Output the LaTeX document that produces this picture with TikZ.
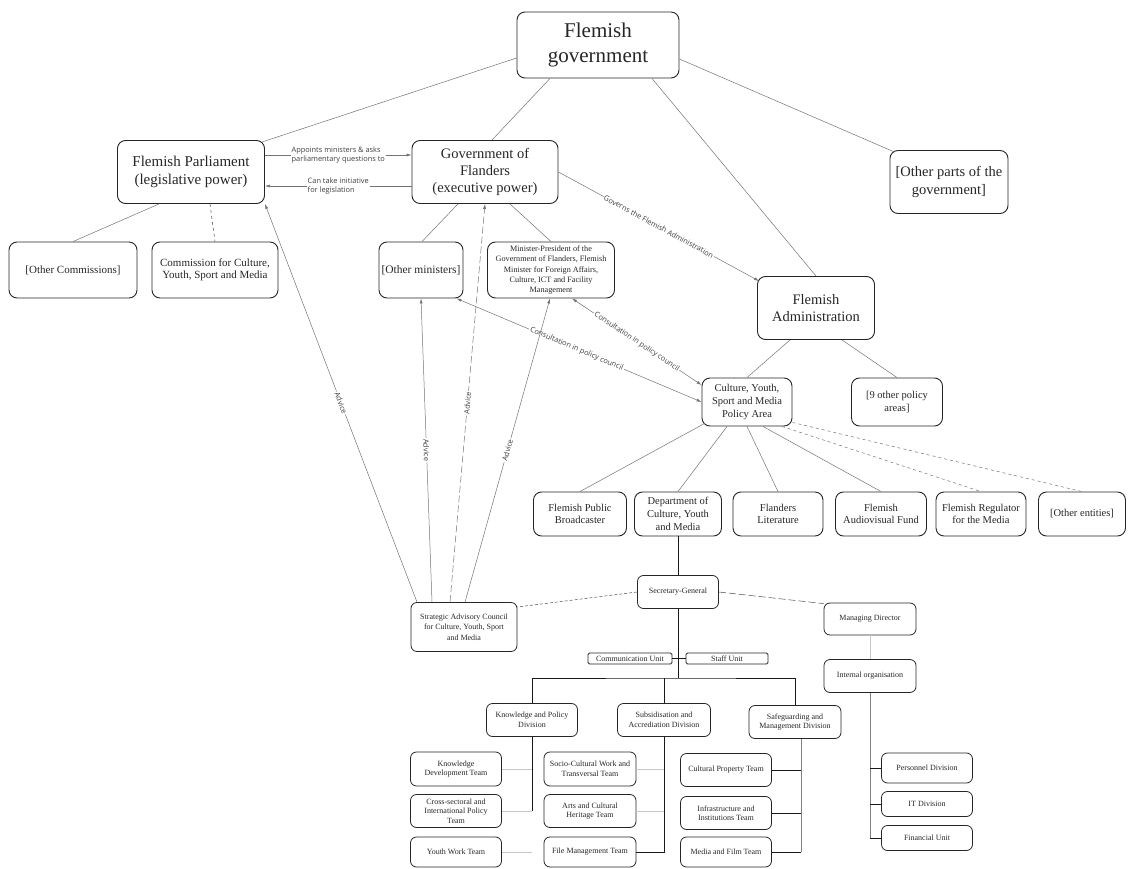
\documentclass[tikz,border=0pt]{standalone}
\usepackage{fontspec}
\setmainfont{Liberation Serif}
\newfontfamily\labelfont{Open Sans}
\usetikzlibrary{arrows.meta}

\tikzset{
    box/.style={draw=black!85, line width=0.9pt, rounded corners=8pt, align=center, inner sep=0pt, text=black!85},
    smallbox/.style={box, line width=0.8pt, rounded corners=6pt, font=\fontsize{8}{9.5}\selectfont},
    unitbox/.style={box, line width=0.8pt, rounded corners=1.5pt, font=\fontsize{8}{9}\selectfont},
    link/.style={draw=black!55, line width=0.5pt},
    arrowlink/.style={link, -{Latex[length=5pt,width=3pt]}},
    bothlink/.style={link, {Latex[length=5pt,width=3pt]}-{Latex[length=5pt,width=3pt]}},
    tag/.style={font=\labelfont\fontsize{7.4}{9.5}\selectfont, text=black!75, fill=white, inner sep=1pt},
    orgline/.style={draw=black!90, line width=0.6pt},
    greyline/.style={draw=black!50, line width=0.6pt},
    faint/.style={draw=black!22, line width=0.6pt}
}

\begin{document}
\begin{tikzpicture}[x=1pt, y=-1pt]
    \useasboundingbox (0,0) rectangle (1128,869);

    % Top levels:
    \node[box, minimum width=162pt, minimum height=66pt, font=\fontsize{21}{25}\selectfont] (fg) at (598,45) {Flemish\\government};
    \node[box, minimum width=147pt, minimum height=63pt, font=\fontsize{15}{18}\selectfont] (parl) at (191,172) {Flemish Parliament\\(legislative power)};
    \node[box, minimum width=146pt, minimum height=63pt, font=\fontsize{14.5}{17}\selectfont] (gof) at (485,172) {Government of\\Flanders\\(executive power)};
    \node[box, minimum width=118pt, minimum height=63pt, font=\fontsize{14.5}{18}\selectfont] (oparts) at (949,182) {[Other parts of the\\government]};
    \node[box, minimum width=117pt, minimum height=63pt, font=\fontsize{14.5}{17}\selectfont] (fa) at (816,308) {Flemish\\Administration};

    % Commissions and ministers:
    \node[box, minimum width=128pt, minimum height=56pt, font=\fontsize{11}{12.5}\selectfont] (ocom) at (73,270) {[Other Commissions]};
    \node[box, minimum width=126pt, minimum height=56pt, font=\fontsize{11}{12.5}\selectfont] (ccom) at (215,270) {Commission for Culture,\\Youth, Sport and Media};
    \node[box, minimum width=84pt, minimum height=56pt, font=\fontsize{11.5}{13}\selectfont] (omin) at (421,270) {[Other ministers]};
    \node[box, minimum width=127pt, minimum height=56pt, font=\fontsize{8.2}{10.2}\selectfont] (mp) at (551,270) {Minister-President of the\\Government of Flanders, Flemish\\Minister for Foreign Affairs,\\Culture, ICT and Facility\\Management};

    % Policy areas:
    \node[box, minimum width=90pt, minimum height=48pt, font=\fontsize{10.5}{12.8}\selectfont] (cpa) at (747,402) {Culture, Youth,\\Sport and Media\\Policy Area};
    \node[box, minimum width=91pt, minimum height=48pt, font=\fontsize{10.5}{12.8}\selectfont] (nine) at (897,402) {[9 other policy\\areas]};

    % Entities:
    \node[box, minimum width=93pt, minimum height=44pt, font=\fontsize{10.5}{12.7}\selectfont] (fpb) at (580,514) {Flemish Public\\Broadcaster};
    \node[box, minimum width=87pt, minimum height=44pt, font=\fontsize{10.5}{12.7}\selectfont] (dept) at (678,514) {Department of\\Culture, Youth\\and Media};
    \node[box, minimum width=90pt, minimum height=44pt, font=\fontsize{10.5}{12.7}\selectfont] (fl) at (778,514) {Flanders\\Literature};
    \node[box, minimum width=91pt, minimum height=44pt, font=\fontsize{10.5}{12.7}\selectfont] (faf) at (881,514) {Flemish\\Audiovisual Fund};
    \node[box, minimum width=90pt, minimum height=44pt, font=\fontsize{10.5}{12.7}\selectfont] (reg) at (981,514) {Flemish Regulator\\for the Media};
    \node[box, minimum width=87pt, minimum height=44pt, font=\fontsize{10.5}{12.7}\selectfont] (oent) at (1082,514) {[Other entities]};

    % Department:
    \node[smallbox, minimum width=81pt, minimum height=33pt] (sg) at (678,592) {Secretary-General};
    \node[smallbox, minimum width=106pt, minimum height=49pt, font=\fontsize{8}{10.5}\selectfont] (sac) at (464,627) {Strategic Advisory Council\\for Culture, Youth, Sport\\and Media};
    \node[smallbox, minimum width=92pt, minimum height=32pt] (md) at (870,619) {Managing Director};
    \node[smallbox, minimum width=92pt, minimum height=33pt] (io) at (870,676) {Internal organisation};
    \node[unitbox, minimum width=84pt, minimum height=11pt] (comm) at (630,658.5) {Communication Unit};
    \node[unitbox, minimum width=82pt, minimum height=11pt] (staff) at (727,658.5) {Staff Unit};

    % Divisions and teams:
    \node[smallbox, minimum width=91pt, minimum height=33pt] (kpd) at (532,720) {Knowledge and Policy\\Division};
    \node[smallbox, minimum width=93pt, minimum height=33pt] (sad) at (664,720) {Subsidisation and\\Accrediation Division};
    \node[smallbox, minimum width=92pt, minimum height=33pt] (smd) at (795,722) {Safeguarding and\\Management Division};
    \node[smallbox, minimum width=91pt, minimum height=34pt] (kdt) at (456,769) {Knowledge\\Development Team};
    \node[smallbox, minimum width=91pt, minimum height=33pt] (cst) at (456,811) {Cross-sectoral and\\International Policy\\Team};
    \node[smallbox, minimum width=91pt, minimum height=30pt] (ywt) at (456,852) {Youth Work Team};
    \node[smallbox, minimum width=92pt, minimum height=34pt] (sct) at (590,769) {Socio-Cultural Work and\\Transversal Team};
    \node[smallbox, minimum width=92pt, minimum height=33pt] (act) at (590,811) {Arts and Cultural\\Heritage Team};
    \node[smallbox, minimum width=92pt, minimum height=30pt] (fmt) at (590,852) {File Management Team};
    \node[smallbox, minimum width=91pt, minimum height=33pt] (cpt) at (726,770) {Cultural Property Team};
    \node[smallbox, minimum width=91pt, minimum height=33pt] (iit) at (726,813) {Infrastructure and\\Institutions Team};
    \node[smallbox, minimum width=91pt, minimum height=30pt] (mft) at (726,852) {Media and Film Team};
    \node[smallbox, minimum width=91pt, minimum height=30pt] (pd) at (927,768) {Personnel Division};
    \node[smallbox, minimum width=91pt, minimum height=25pt] (itd) at (927,804) {IT Division};
    \node[smallbox, minimum width=91pt, minimum height=25pt] (fu) at (927,838) {Financial Unit};

    % Structure lines:
    \draw[link] ([yshift=-13pt]fg.west) -- ([xshift=-3pt,yshift=-2pt]parl.north east);
    \draw[link] ([xshift=-48pt]fg.south) -- ([xshift=7pt]gof.north);
    \draw[link] ([xshift=54pt]fg.south) -- (fa.north);
    \draw[link] ([yshift=-14pt]fg.east) -- ([xshift=5pt,yshift=-2pt]oparts.north west);
    \draw[link] ([xshift=-32pt]parl.south) -- (ocom.north);
    \draw[link, black!75, dashed] ([xshift=19pt]parl.south) -- (ccom.north);
    \draw[link] ([xshift=-27pt]gof.south) -- ([xshift=1pt]omin.north);
    \draw[link] ([xshift=25pt]gof.south) -- (mp.north);
    \draw[link] ([xshift=-26pt]fa.south) -- (cpa.north);
    \draw[link] ([xshift=26pt]fa.south) -- (nine.north);
    \draw[link] ([xshift=3pt,yshift=3pt]cpa.south west) -- (fpb.north);
    \draw[link] ([xshift=-20pt]cpa.south) -- (dept.north);
    \draw[link] (cpa.south) -- (fl.north);
    \draw[link] ([xshift=16pt]cpa.south) -- (faf.north);
    \draw[link, dashed] ([xshift=35pt]cpa.south) -- (reg.north);
    \draw[link, dashed] ([yshift=4pt]cpa.south east) -- (oent.north);

    % Labelled arrows:
    \draw[arrowlink] ([yshift=17pt]parl.east) -- node[tag, align=left] {Appoints ministers \& asks\\parliamentary questions to} ([yshift=17pt]gof.west);
    \draw[arrowlink] ([yshift=-14pt]gof.west) -- node[tag, align=left] {Can take initiative\\for legislation} ([yshift=-14pt]parl.east);
    \draw[arrowlink] (gof.east) -- node[tag, sloped] {Governs the Flemish Administration} ([xshift=2pt,yshift=27pt]fa.west);
    \draw[bothlink] ([xshift=-7pt]omin.south east) -- node[tag, sloped, pos=0.49] {Consultation in policy council} (cpa.west);
    \draw[bothlink] ([xshift=21pt]mp.south) -- node[tag, sloped, pos=0.5] {Consultation in policy council} ([yshift=17pt]cpa.west);

    % Advice:
    \draw[arrowlink] ([xshift=-47pt]sac.north) -- node[tag, sloped] {Advice} (parl.south east);
    \draw[arrowlink] ([xshift=-32pt]sac.north) -- node[tag, sloped] {Advice} (omin.south);
    \draw[arrowlink, dash pattern=on 7pt off 3pt] ([xshift=-14pt]sac.north) -- node[tag, sloped] {Advice} (gof.south);
    \draw[arrowlink] ([xshift=1pt]sac.north) -- node[tag, sloped] {Advice} ([xshift=-1pt]mp.south);

    % Department chart:
    \coordinate (hub) at (678,678);
    \draw[orgline] (dept.south) -- (sg.north);
    \draw[link, black!70, dash pattern=on 3pt off 2pt] (sg.west) -- ([yshift=20pt]sac.east);
    \draw[link, black!70, dash pattern=on 7pt off 3pt] (sg.east) -- ([yshift=-1pt]md.north west);
    \draw[orgline] (sg.south) -- (hub);
    \draw[orgline] (comm.east) -- (staff.west);
    \draw[orgline] (kpd.north) |- (hub) -| (smd.north);
    \draw[orgline] (sad.north) -- (sad.north |- hub);
    \draw[faint] (md.south) -- (io.north);

    % Divisions:
    \draw[orgline] (kpd.south) -- (kpd.south |- cst.east);
    \draw[faint] (kdt.east) -- (kdt.east -| kpd.south);
    \draw[faint] (cst.east) -- (cst.east -| kpd.south);
    \draw[faint] (ywt.east) -- (ywt.east -| kpd.south);
    \draw[orgline] (sad.south) |- (fmt.east);
    \draw[faint] (sct.east) -- (sct.east -| sad.south);
    \draw[faint] (act.east) -- (act.east -| sad.south);
    \coordinate (smdfoot) at ([xshift=6pt]smd.south);
    \draw[greyline] (smdfoot) -- (smdfoot |- mft.east);
    \draw[orgline] (cpt.east) -- (cpt.east -| smdfoot);
    \draw[orgline] (iit.east) -- (iit.east -| smdfoot);
    \draw[orgline] (mft.east) -- (mft.east -| smdfoot);
    \draw[greyline] (io.south) -- (io.south |- fu.west);
    \draw[orgline] (pd.west) -- (pd.west -| io.south);
    \draw[orgline] (itd.west) -- (itd.west -| io.south);
    \draw[orgline] (fu.west) -- (fu.west -| io.south);
\end{tikzpicture}
\end{document}
